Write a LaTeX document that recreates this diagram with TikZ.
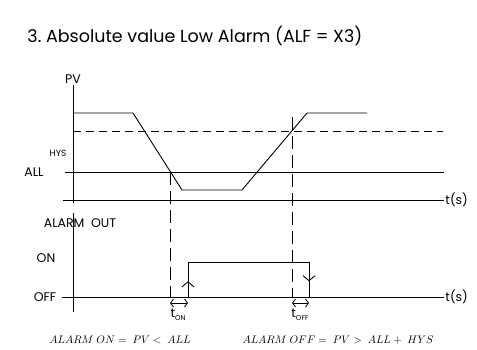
\documentclass[tikz,border=0pt]{standalone}
\usepackage{fontspec}
\setmainfont{Poppins}
\usetikzlibrary{arrows.meta, decorations.markings}

\tikzset{
  lbl/.style={font=\fontsize{12.5}{12.5}\selectfont, inner sep=1pt},
  small/.style={font=\fontsize{9}{9}\selectfont, inner sep=1pt},
  eqn/.style={font=\fontsize{11}{11}\selectfont, inner sep=1pt},
  guide/.style={dash pattern=on 13pt off 6pt},
  hyst/.style={dash pattern=on 8pt off 5pt},
  edge up/.style={postaction={decorate}, decoration={markings,
    mark=at position 0.45 with {\arrow{Straight Barb[length=5pt, width=12pt]}}}},
  edge down/.style={postaction={decorate}, decoration={markings,
    mark=at position 0.55 with {\arrow{Straight Barb[length=5pt, width=12pt]}}}},
  span/.style={{Straight Barb[length=3pt, width=8pt]}-{Straight Barb[length=3pt, width=8pt]}, line width=0.8pt}
}

\begin{document}
\begin{tikzpicture}[x=1pt, y=-1pt, line width=0.9pt]
  \useasboundingbox (0,0) rectangle (477,349);
  % title
  \node[anchor=west, font=\fontsize{17.5}{17.5}\selectfont, inner sep=0pt] (title) at (27,36)
    {3.\ Absolute\ value\ Low\ Alarm\ (ALF\ =\ X3)};
  % upper chart: process value
  \coordinate (pvtop) at (73,85);
  \coordinate (pvbot) at (73,203);
  \draw (pvtop) -- (pvbot);
  \node[lbl, above] (pv) at (pvtop) {PV};
  \coordinate (ta) at (63,200);
  \coordinate (tb) at (444,200);
  \draw (ta) -- (tb);
  \node[lbl, right] (ts1) at (tb) {t(s)};
  % alarm level and hysteresis
  \coordinate (alla) at (65,172);
  \coordinate (allb) at (444,172);
  \draw (alla) -- (allb);
  \node[lbl] (all) at (34,172) {ALL};
  \coordinate (hysa) at (73,131);
  \coordinate (hysb) at (443,131);
  \draw[hyst] (hysa) -- (hysb);
  \node[small] (hys) at (58,153) {HYS};
  % the PV curve
  \coordinate (p1) at (73,113);
  \coordinate (p2) at (133,113);
  \coordinate (p3) at (182,190);
  \coordinate (p4) at (242,190);
  \coordinate (p5) at (307,113);
  \coordinate (p6) at (367,113);
  \draw (p1) -- (p2) -- (p3) -- (p4) -- (p5) -- (p6);
  % switching instants
  \coordinate (onx) at (170,172);
  \coordinate (onb) at (170,297);
  \coordinate (offx) at (292,117);
  \coordinate (offb) at (292,297);
  \draw[guide] (onx) -- (onb);
  \draw[guide] (offx) -- (offb);
  % lower chart: alarm output
  \coordinate (aotop) at (73,213);
  \coordinate (aobot) at (73,312);
  \draw (aotop) -- (aobot);
  \coordinate (tc) at (62,297);
  \coordinate (td) at (444,297);
  \draw (tc) -- (td);
  \node[lbl, right] (ts2) at (td) {t(s)};
  \node[lbl] (aout) at (80,223) {ALARM\ \ OUT};
  \node[lbl] (on) at (46,258) {ON};
  \node[lbl] (off) at (45,297) {OFF};
  % output pulse
  \coordinate (q1) at (188,297);
  \coordinate (q2) at (188,262);
  \coordinate (q3) at (309,262);
  \coordinate (q4) at (309,297);
  \draw[edge up] (q1) -- (q2);
  \draw (q2) -- (q3);
  \draw[edge down] (q3) -- (q4);
  % delays
  \coordinate (d1) at (170,303);
  \coordinate (d2) at (188,303);
  \coordinate (d3) at (292,303);
  \coordinate (d4) at (309,303);
  \draw[span] (d1) -- (d2);
  \draw[span] (d3) -- (d4);
  \node[lbl] (ton) at (178,315) {t\raisebox{-3pt}{\fontsize{7}{7}\selectfont ON}};
  \node[lbl] (toff) at (300,315) {t\raisebox{-3pt}{\fontsize{7}{7}\selectfont OFF}};
  % conditions
  \node[eqn] (eqon) at (120,340) {$ALARM\ ON =\ PV <\ ALL$};
  \node[eqn] (eqoff) at (338,340) {$ALARM\ OFF =\ PV >\ ALL +\ HYS$};
\end{tikzpicture}
\end{document}
